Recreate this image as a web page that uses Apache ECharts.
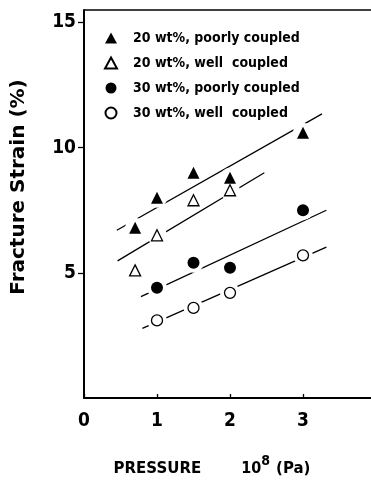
<!DOCTYPE html>
<html>
<head>
<meta charset="utf-8">
<script src="https://cdn.jsdelivr.net/npm/echarts@6/dist/echarts.min.js"></script>
<style>
  html, body { margin: 0; padding: 0; background: #fff; }
  #chart { width: 371px; height: 486px; }
</style>
</head>
<body>
<div id="chart"></div>
<script>
// measured points [pressure (1e8 Pa), fracture strain %]
const poor20 = [[0.7, 6.8], [1, 8.0], [1.5, 9.0], [2, 8.8], [3, 10.6]];
const well20 = [[0.7, 5.1], [1, 6.5], [1.5, 7.9], [2, 8.3]];
const poor30 = [[1, 4.4], [1.5, 5.4], [2, 5.2], [3, 7.5]];
const well30 = [[1, 3.1], [1.5, 3.6], [2, 4.2], [3, 5.7]];

// fitted straight lines, start and end point
const fitPoor20 = [[0.45, 6.7], [3.26, 11.35]];
const fitWell20 = [[0.46, 5.48], [2.47, 9.0]];
const fitPoor30 = [[0.78, 4.05], [3.32, 7.5]];
const fitWell30 = [[0.8, 2.78], [3.32, 6.03]];

const seriesNames = ['20 wt%, poorly coupled', '20 wt%, well  coupled', '30 wt%, poorly coupled', '30 wt%, well  coupled'];
const yTicks = [5, 10, 15];
const yTop = 15.5;

const condensed = '"DejaVu Sans Condensed", "DejaVu Sans", sans-serif';
const narrow = '"Liberation Sans Narrow", "DejaVu Sans Condensed", sans-serif';
const wide = '"DejaVu Sans", sans-serif';

const chart = echarts.init(document.getElementById('chart'), null, { renderer: 'canvas' });

// a line between two points
function fitLine(data) {
  return {
    type: 'line', data: data, symbol: 'none', silent: true, z: 1,
    lineStyle: { color: '#000', width: 1.3 }
  };
}

// white blob under each marker so the fit line looks broken there
function halo(data, size) {
  return {
    type: 'scatter', data: data, symbol: 'circle', symbolSize: size, silent: true, z: 2,
    itemStyle: { color: '#fff', opacity: 1 }
  };
}

function points(name, data, symbol, size, filled) {
  return {
    name: name, type: 'scatter', data: data, symbol: symbol, symbolSize: size, z: 3,
    itemStyle: filled
      ? { color: '#000', opacity: 1 }
      : { color: '#fff', borderColor: '#000', borderWidth: 1.3, opacity: 1 }
  };
}

const topFrame = fitLine([]);
// top frame of the plot
topFrame.markLine = {
  silent: true, symbol: 'none', animation: false,
  label: { show: false },
  lineStyle: { color: '#000', type: 'solid', width: 1.5 },
  data: [{ yAxis: yTop }]
};

const option = {
  animation: false,
  backgroundColor: '#fff',
  grid: { left: 84, right: -5, top: 10, bottom: 88, outerBoundsMode: 'none', containLabel: false },
  legend: {
    data: seriesNames,
    orient: 'vertical',
    left: 99, top: 25,
    itemWidth: 12, itemHeight: 11, itemGap: 9,
    textStyle: {
      fontFamily: condensed, fontWeight: 'bold', fontSize: 14, color: '#000',
      lineHeight: 16, padding: [0, 0, 0, 11]
    }
  },
  xAxis: {
    type: 'value', min: 0, max: 4, interval: 1,
    splitLine: { show: false },
    axisLine: { lineStyle: { color: '#000', width: 2 } },
    axisTick: { show: true, inside: true, length: 4, lineStyle: { color: '#000', width: 1.3 } },
    axisLabel: {
      showMaxLabel: false, margin: 14, color: '#000',
      fontFamily: narrow, fontWeight: 'bold', fontSize: 19
    },
    name: '{a|PRESSURE}{n|10}{s|8}{p|(Pa)}',
    nameLocation: 'middle', nameGap: 56,
    nameTextStyle: {
      padding: [0, 36, 0, 0],
      rich: {
        a: { fontFamily: wide, fontWeight: 'bold', fontSize: 15, color: '#000' },
        n: { fontFamily: condensed, fontWeight: 'bold', fontSize: 16, color: '#000', padding: [0, 0, 0, 40] },
        s: { fontFamily: condensed, fontWeight: 'bold', fontSize: 14, color: '#000', padding: [0, 0, 16, 0] },
        p: { fontFamily: wide, fontWeight: 'bold', fontSize: 15, color: '#000', padding: [0, 0, 0, 6] }
      }
    }
  },
  yAxis: {
    type: 'value', min: 0, max: yTop, interval: 5,
    splitLine: { show: false },
    axisLine: { lineStyle: { color: '#000', width: 2 } },
    axisTick: { show: true, length: 6, lineStyle: { color: '#000', width: 1.3 } },
    axisLabel: {
      showMinLabel: false, showMaxLabel: false, margin: 8, color: '#000',
      fontFamily: narrow, fontWeight: 'bold', fontSize: 19,
      formatter: function (v) { return yTicks.indexOf(v) >= 0 ? String(v) : ''; }
    },
    name: 'Fracture Strain (%)',
    nameLocation: 'middle', nameGap: 55,
    nameTextStyle: {
      fontFamily: wide, fontWeight: 'bold', fontSize: 20, color: '#000',
      padding: [0, 0, 0, 34]
    }
  },
  series: [
    topFrame,
    fitLine(fitPoor20),
    fitLine(fitWell20),
    fitLine(fitPoor30),
    fitLine(fitWell30),
    halo(poor20, 20),
    halo(well20, 20),
    halo(poor30, 20),
    halo(well30, 20),
    points(seriesNames[0], poor20, 'triangle', 12, true),
    points(seriesNames[1], well20, 'triangle', 11, false),
    points(seriesNames[2], poor30, 'circle', 12, true),
    points(seriesNames[3], well30, 'circle', 11, false)
  ]
};

chart.setOption(option);
window.addEventListener('resize', chart.resize);
</script>
</body>
</html>
